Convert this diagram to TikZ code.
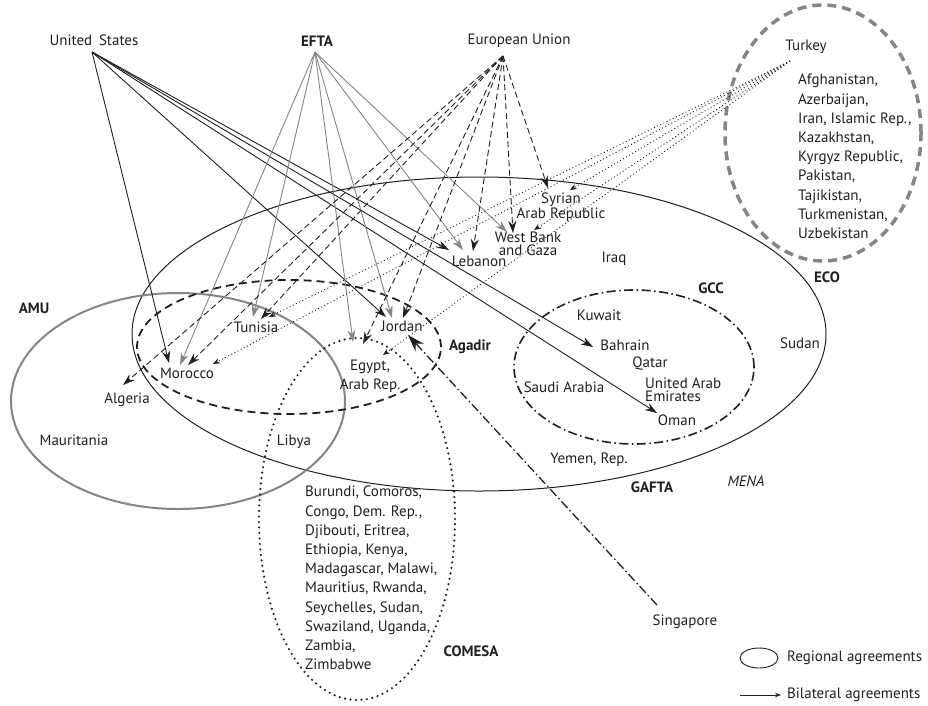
\documentclass[tikz,border=0pt]{standalone}
\usepackage{fontspec}
\setmainfont{PT Sans}
\setsansfont{PT Sans}
\usetikzlibrary{arrows.meta}
\definecolor{ink}{HTML}{231F20}
\definecolor{gline}{HTML}{858585}
\begin{document}
\begin{tikzpicture}[x=1pt,y=-1pt,
  lbl/.style={inner sep=0pt, text=ink, font=\fontsize{15}{19.2}\selectfont},
  blbl/.style={inner sep=0pt, text=ink, font=\fontsize{15}{19.2}\selectfont\bfseries},
  tight/.style={inner sep=0pt, text=ink, font=\fontsize{15}{13.3}\selectfont},
  usarr/.style={draw=ink, line width=0.9pt, -{Stealth[length=12pt,width=8pt]}},
  eftaarr/.style={draw=gline, line width=0.9pt, -{Stealth[length=12pt,width=8pt]}},
  euarr/.style={draw=ink, line width=0.9pt, dash pattern=on 6pt off 3.5pt, -{Stealth[length=12pt,width=8pt]}},
  tkarr/.style={draw=ink, line width=0.9pt, dash pattern=on 1pt off 2.5pt, -{Stealth[length=7pt,width=5.5pt]}},
  sgarr/.style={draw=ink, line width=1.3pt, dash pattern=on 9pt off 3pt on 1.5pt off 3pt, -{Stealth[length=17pt,width=11pt]}},
  gafta/.style={draw=ink, line width=1pt},
  amu/.style={draw=gline, line width=2pt},
  agadir/.style={draw=ink, line width=1.8pt, dash pattern=on 8pt off 5pt},
  comesa/.style={draw=ink, line width=2.4pt, dash pattern=on 0pt off 5.5pt, line cap=round},
  gcc/.style={draw=ink, line width=1.6pt, dash pattern=on 9pt off 3.5pt on 1.5pt off 3.5pt},
  eco/.style={draw=gline, line width=3.5pt, dash pattern=on 9pt off 6pt},
  legarr/.style={draw=ink, line width=0.9pt, -{Stealth[length=6pt,width=4.5pt]}}
]
\useasboundingbox[fill=white] (0,0) rectangle (928,705);

% regional agreements (ellipses)
\coordinate (cGAFTA) at (479,334);
\coordinate (cAMU) at (178,401);
\coordinate (cAGA) at (289,347);
\coordinate (cCOM) at (357,519);
\coordinate (cGCC) at (634,367);
\coordinate (cECO) at (823,133);
\draw[gafta] (cGAFTA) ellipse [x radius=347pt, y radius=157pt];
\draw[amu] (cAMU) ellipse [x radius=167pt, y radius=108pt];
\draw[agadir] (cAGA) ellipse [x radius=152pt, y radius=67pt];
\draw[comesa] (cCOM) ellipse [x radius=98pt, y radius=181pt];
\draw[gcc] (cGCC) ellipse [x radius=120pt, y radius=77pt];
\draw[eco] (cECO) ellipse [x radius=98pt, y radius=128pt];

% labels
\node[lbl] (us) at (94,40) {United\hspace{0.45em}States};
\node[blbl] (efta) at (317,41) {EFTA};
\node[lbl] (eu) at (519,41) {European Union};
\node[lbl] (turkey) at (806,47) {Turkey};
\node[lbl, align=left, anchor=north west] (ecolist) at (798,74) {Afghanistan,\\Azerbaijan,\\Iran, Islamic Rep.,\\Kazakhstan,\\Kyrgyz Republic,\\Pakistan,\\Tajikistan,\\Turkmenistan,\\Uzbekistan};
\node[blbl] (eco) at (827,277) {ECO};
\node[tight, align=center] (syria) at (561,207) {Syrian\\Arab Republic};
\node[tight, align=center] (wbg) at (528,244) {West Bank\\and Gaza};
\node[lbl] (lebanon) at (479,261) {Lebanon};
\node[lbl] (iraq) at (614,259) {Iraq};
\node[blbl] (gcc) at (711,288) {GCC};
\node[lbl] (kuwait) at (599,315) {Kuwait};
\node[lbl] (bahrain) at (625,345) {Bahrain};
\node[lbl] (qatar) at (650,364) {Qatar};
\node[tight, align=left, anchor=west] (uae) at (645,390) {United Arab\\Emirates};
\node[lbl] (oman) at (677,420) {Oman};
\node[lbl] (saudi) at (564,387) {Saudi Arabia};
\node[lbl] (sudan) at (800,343) {Sudan};
\node[blbl] (agadir) at (470,347) {Agadir};
\node[lbl] (yemen) at (589,460) {Yemen, Rep.};
\node[blbl] (gaftal) at (652,487) {GAFTA};
\node[lbl, font=\fontsize{15}{19.2}\selectfont\itshape] (mena) at (746,481) {MENA};
\node[lbl, align=center] (egypt) at (370,376) {Egypt,\\Arab Rep.};
\node[lbl] (jordan) at (402,326) {Jordan};
\node[lbl] (tunisia) at (256,327) {Tunisia};
\node[lbl] (morocco) at (187,373) {Morocco};
\node[lbl] (algeria) at (127,400) {Algeria};
\node[lbl] (mauritania) at (74,440) {Mauritania};
\node[blbl] (amul) at (34,308) {AMU};
\node[lbl] (libya) at (294,442) {Libya};
\node[lbl, align=left, anchor=north west] (comlist) at (305,486) {Burundi, Comoros,\\Congo, Dem. Rep.,\\Djibouti, Eritrea,\\Ethiopia, Kenya,\\Madagascar, Malawi,\\Mauritius, Rwanda,\\Seychelles, Sudan,\\Swaziland, Uganda,\\Zambia,\\Zimbabwe};
\node[blbl] (comesal) at (471,651) {COMESA};
\node[lbl] (singapore) at (685,622) {Singapore};

% origins
\coordinate (usO) at (92,52);
\coordinate (eftaO) at (315,52);
\coordinate (euO) at (503,56);
\coordinate (tkO) at (790,61);
\coordinate (sgO) at (657,605);

% United States
\coordinate (usMor) at (169,363);
\coordinate (usJor) at (386,317);
\coordinate (usLeb) at (449,250);
\coordinate (usBah) at (593,347);
\coordinate (usOma) at (657,413);
\draw[usarr] (usO) -- (usMor);
\draw[usarr] (usO) -- (usJor);
\draw[usarr] (usO) -- (usLeb);
\draw[usarr] (usO) -- (usBah);
\draw[usarr] (usO) -- (usOma);

% EFTA
\coordinate (efMor) at (180,365);
\coordinate (efTun) at (253,317);
\coordinate (efEgy) at (353,342);
\coordinate (efJor) at (392,318);
\coordinate (efLeb) at (463,250);
\coordinate (efWbg) at (507,232);
\foreach \t in {efMor,efTun,efEgy,efJor,efLeb,efWbg} \draw[eftaarr] (eftaO) -- (\t);

% European Union
\coordinate (euAlg) at (123,385);
\coordinate (euMor) at (188,365);
\coordinate (euTun) at (261,319);
\coordinate (euEgy) at (363,344);
\coordinate (euJor) at (403,318);
\coordinate (euLeb) at (473,251);
\coordinate (euWbg) at (513,233);
\coordinate (euSyr) at (548,188);
\foreach \t in {euAlg,euMor,euTun,euEgy,euJor,euLeb,euWbg,euSyr} \draw[euarr] (euO) -- (\t);

% Turkey
\coordinate (tkSyr) at (570,190);
\coordinate (tkWbg) at (534,230);
\coordinate (tkEgy) at (383,355);
\coordinate (tkTun) at (269,317);
\coordinate (tkMor) at (213,364);
\foreach \t in {tkSyr,tkWbg,tkEgy,tkTun,tkMor} \draw[tkarr] (tkO) -- (\t);

% Singapore
\coordinate (sgJor) at (408,335);
\draw[sgarr] (sgO) -- (sgJor);

% legend
\coordinate (legE) at (759,658);
\draw[draw=ink, line width=0.9pt] (legE) ellipse [x radius=19pt, y radius=10pt];
\node[lbl, anchor=west] (legreg) at (787,658) {Regional agreements};
\coordinate (legA) at (740,695);
\coordinate (legB) at (781,695);
\draw[legarr] (legA) -- (legB);
\node[lbl, anchor=west] (legbil) at (787,695) {Bilateral agreements};
\end{tikzpicture}
\end{document}
